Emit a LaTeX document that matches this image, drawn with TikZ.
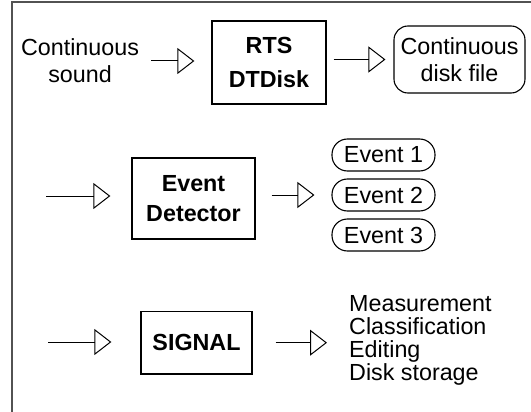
\documentclass[tikz,border=0pt]{standalone}
\usepackage{fontspec}
\setmainfont{Liberation Sans}
\usepackage{tikz}
\usetikzlibrary{arrows.meta}
\tikzstyle{procbox} = [draw=black, line width=1.3pt, rectangle, inner sep=0pt,
    align=center, font=\bfseries\fontsize{23.3}{30}\selectfont]
\tikzstyle{outbox} = [draw=black, line width=1.1pt, rectangle, rounded corners=14pt,
    inner sep=0pt, align=center, font=\fontsize{23.3}{27}\selectfont]
\tikzstyle{eventpill} = [draw=black, line width=1.1pt, rectangle, rounded corners=15.5pt,
    inner sep=0pt, minimum width=103pt, minimum height=32pt, font=\fontsize{23.3}{27}\selectfont]
\tikzstyle{plaintext} = [inner sep=0pt, font=\fontsize{23.3}{27}\selectfont]
\tikzstyle{flow} = [-{Triangle[open, length=17pt, width=26pt]}, line width=1pt]

\begin{document}
\begin{tikzpicture}[x=1pt, y=-1pt]
\useasboundingbox (0,0) rectangle (531,412);
\draw [line width=2pt, black!68] (12,412) -- (12,2.5) -- (531,2.5);

% top row
\node [plaintext, align=center] (snd) at (80,61) {Continuous\\sound};
\node [procbox, minimum width=114pt, minimum height=83pt,
    font=\bfseries\fontsize{23.3}{34}\selectfont] (rts) at (269,62.5) {RTS\\DTDisk};
\node [outbox, minimum width=131pt, minimum height=67pt] (disk) at (459.5,59.5)
    {Continuous\\disk file};
\draw [flow, shorten <=12pt, shorten >=17pt] (snd.east) -- (snd.east -| rts.west);
\draw [flow, shorten <=7pt, shorten >=8pt] (rts.east |- disk.west) -- (disk.west);

% event detector
\coordinate (in2) at (46,196);
\node [procbox, minimum width=123pt, minimum height=81pt] (ed) at (193.5,198.5)
    {Event\\Detector};
\node [eventpill] (e1) at (383.5,155) {Event 1};
\node [eventpill] (e2) at (383.5,195) {Event 2};
\node [eventpill] (e3) at (383.5,235) {Event 3};
\draw [flow, shorten >=21pt] (in2) -- (in2 -| ed.west);
\draw [flow, shorten <=16pt, shorten >=17pt] (ed.east |- e2.west) -- (e2.west);

% signal
\coordinate (in3) at (48,342);
\node [procbox, minimum width=111pt, minimum height=62.5pt] (sig) at (196.5,342.7) {SIGNAL};
\node [plaintext, align=left, anchor=north west, font=\fontsize{23.3}{23}\selectfont]
    (tasks) at (349,295) {Measurement\\Classification\\Editing\\Disk storage};
\draw [flow, shorten >=29pt] (in3) -- (in3 -| sig.west);
\draw [flow, shorten <=23pt, shorten >=22pt] (sig.east) -- (sig.east -| tasks.west);
\end{tikzpicture}
\end{document}
